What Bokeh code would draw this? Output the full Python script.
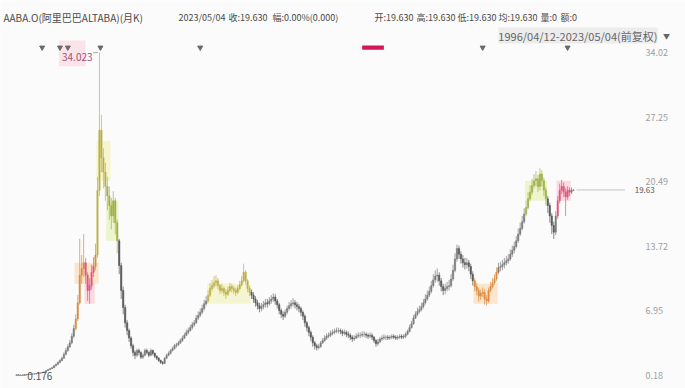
from bokeh.plotting import figure
from bokeh.models import Range1d, Label, ColumnDataSource
from bokeh.core.properties import value
from bokeh.embed import file_html
from bokeh.resources import INLINE

# ---------------- data ----------------
first_open = 0.20
close = [0.25,0.22,0.20,0.24,0.28,0.30,0.27,0.32,0.35,0.33,0.38,0.42,0.45,0.50,0.55,0.70,0.80,0.90,1.00,1.20,
         1.35,1.55,1.75,2.00,2.40,2.80,3.20,3.60,4.30,5.10,6.10,7.80,10.70,11.40,12.00,10.70,9.10,9.60,11.00,11.60,
         12.80,19.60,25.90,23.00,21.50,20.00,19.00,18.00,16.90,18.50,16.20,14.30,11.70,9.10,7.30,5.70,4.90,4.10,3.30,2.60,
         2.30,2.80,2.60,2.10,2.30,2.80,2.60,2.30,2.80,2.50,2.20,2.00,1.75,1.55,1.45,2.00,2.30,2.50,2.80,3.00,
         3.30,3.40,3.60,3.85,4.10,4.40,4.70,4.90,5.20,5.50,5.70,6.20,6.50,6.80,7.20,7.70,8.00,8.60,9.30,9.60,
         9.90,10.10,9.60,9.10,9.30,8.90,8.70,9.10,9.50,9.30,9.10,8.90,9.30,9.70,10.10,11.00,10.10,9.30,8.90,8.60,
         8.20,7.80,7.50,7.20,7.40,7.60,7.80,7.70,8.00,8.20,8.40,8.00,7.60,7.00,6.60,6.40,6.80,7.20,7.50,7.70,
         7.80,7.60,7.40,7.20,6.80,6.40,5.70,5.20,4.70,4.20,3.60,3.30,3.10,3.20,3.60,3.85,4.10,4.30,4.40,4.60,
         4.70,4.80,4.90,4.90,4.80,4.60,4.70,4.50,4.40,4.20,4.00,4.10,4.30,4.40,4.40,4.50,4.50,4.40,4.30,4.40,
         4.20,3.85,3.50,3.70,4.00,4.10,4.20,4.20,4.10,4.20,4.30,4.20,4.10,4.20,4.30,4.20,4.30,4.50,4.80,5.20,
         5.60,6.20,6.60,6.90,7.10,7.40,7.80,8.20,8.60,9.00,9.60,10.20,10.60,10.70,10.10,9.50,9.10,9.30,9.50,9.60,
         10.30,11.20,12.40,13.50,12.90,12.40,12.00,11.80,12.00,11.60,10.80,10.10,9.50,9.10,8.50,8.80,8.90,8.20,8.00,9.10,
         9.50,9.90,10.30,11.00,11.50,11.60,11.80,12.00,12.20,12.40,12.90,13.30,13.70,14.30,15.00,15.60,16.30,17.10,17.80,18.70,
         19.40,20.10,20.60,20.80,20.00,21.30,20.60,19.60,18.70,18.00,16.90,15.90,15.20,16.90,18.50,19.60,20.00,19.40,18.90,19.60,
         19.40,19.60,19.63]
high = [0.30,0.27,0.24,0.26,0.30,0.33,0.32,0.34,0.38,0.37,0.40,0.45,0.49,0.54,0.60,0.74,0.86,0.97,1.08,1.27,
        1.44,1.66,1.88,2.15,2.60,3.05,3.45,3.90,4.60,5.50,6.60,8.60,14.50,12.80,15.00,12.50,11.00,10.40,11.80,12.60,
        14.00,21.00,34.023,27.50,24.00,22.50,21.00,20.00,18.80,19.50,18.80,16.50,14.50,12.00,9.50,7.60,6.00,5.10,4.30,3.50,
        2.80,3.00,3.00,2.70,2.50,3.00,3.00,2.70,3.00,2.90,2.60,2.30,2.10,1.85,1.70,2.10,2.45,2.70,2.95,3.20,
        3.50,3.60,3.80,4.05,4.35,4.65,5.00,5.20,5.50,5.80,6.00,6.50,6.90,7.20,7.60,8.10,8.50,9.10,9.90,10.20,
        10.60,10.70,10.40,9.80,9.80,9.50,9.20,9.50,9.90,9.80,9.60,9.40,9.60,10.10,10.60,11.90,11.20,10.30,9.60,9.20,
        8.90,8.50,8.10,7.80,7.80,8.00,8.20,8.20,8.40,8.60,8.80,8.70,8.20,7.80,7.20,6.90,7.10,7.50,7.90,8.10,
        8.30,8.10,7.90,7.70,7.40,7.00,6.60,5.90,5.40,4.90,4.40,3.80,3.50,3.50,3.80,4.10,4.40,4.60,4.70,4.90,
        5.00,5.10,5.20,5.20,5.10,5.00,5.00,4.90,4.80,4.60,4.40,4.40,4.60,4.70,4.70,4.80,4.80,4.70,4.60,4.70,
        4.60,4.30,4.00,4.00,4.20,4.40,4.50,4.40,4.40,4.40,4.50,4.50,4.40,4.40,4.50,4.50,4.50,4.70,5.00,5.50,
        5.90,6.50,6.90,7.30,7.50,7.80,8.20,8.70,9.10,9.50,10.10,10.80,11.20,11.40,11.00,10.40,9.80,9.80,10.00,10.20,
        10.80,11.80,13.00,13.90,13.80,13.20,12.80,12.50,12.50,12.30,11.90,11.10,10.40,9.90,9.40,9.20,9.40,9.20,8.60,9.40,
        10.00,10.40,10.80,11.50,12.00,12.10,12.30,12.50,12.70,12.90,13.40,13.80,14.20,14.80,15.60,16.20,16.90,17.70,18.50,19.40,
        20.10,20.80,21.30,21.60,21.20,21.90,21.70,20.90,19.90,19.00,18.30,17.20,16.30,17.40,19.00,20.30,20.70,20.40,19.80,20.00,
        19.90,19.90,19.70]
low = [0.176,0.19,0.18,0.19,0.23,0.26,0.25,0.26,0.30,0.31,0.32,0.36,0.40,0.43,0.48,0.53,0.66,0.76,0.85,0.95,
       1.12,1.30,1.48,1.68,1.92,2.30,2.65,3.05,3.45,4.10,4.90,5.90,7.60,9.80,10.50,9.80,8.00,7.70,9.20,10.50,
       11.20,12.50,19.00,21.50,19.80,18.50,17.50,16.50,15.50,16.20,15.00,13.00,10.80,8.20,6.60,5.20,4.40,3.70,3.00,2.20,
       1.90,2.10,2.30,1.90,1.90,2.20,2.40,2.10,2.20,2.30,2.00,1.80,1.60,1.40,1.30,1.40,1.90,2.20,2.40,2.70,
       2.90,3.10,3.30,3.50,3.70,4.00,4.30,4.50,4.80,5.00,5.30,5.60,6.00,6.30,6.60,7.00,7.50,7.80,8.40,9.00,
       9.30,9.50,9.20,8.70,8.80,8.50,8.20,8.50,8.90,8.90,8.70,8.50,8.70,9.10,9.50,9.90,9.70,8.90,8.50,8.20,
       7.80,7.40,7.10,6.80,6.90,7.10,7.30,7.30,7.50,7.70,7.90,7.60,7.20,6.60,6.20,6.00,6.20,6.60,7.00,7.20,
       7.40,7.20,7.00,6.80,6.40,6.00,5.30,4.80,4.30,3.80,3.20,2.90,2.80,2.90,3.10,3.50,3.70,3.90,4.10,4.20,
       4.40,4.50,4.60,4.60,4.50,4.30,4.40,4.20,4.10,3.90,3.70,3.80,4.00,4.10,4.10,4.20,4.20,4.10,4.00,4.10,
       3.90,3.60,3.20,3.30,3.60,3.80,3.90,3.90,3.90,3.90,4.00,4.00,3.90,3.90,4.00,4.00,4.00,4.10,4.40,4.70,
       5.10,5.50,6.10,6.40,6.70,6.90,7.20,7.60,8.00,8.40,8.80,9.40,9.90,10.00,9.60,9.00,8.60,8.70,9.00,9.10,
       9.40,10.10,11.00,12.10,12.40,11.90,11.50,11.30,11.40,11.10,10.30,9.60,9.00,8.60,7.90,8.10,8.40,7.60,7.50,7.80,
       8.90,9.30,9.70,10.10,10.80,11.10,11.20,11.40,11.70,11.90,12.20,12.60,13.00,13.50,14.10,14.80,15.40,16.10,16.90,17.60,
       18.50,19.10,19.80,20.00,19.40,19.60,20.00,19.00,18.00,17.20,16.20,15.00,14.50,14.90,16.60,18.20,19.20,18.90,16.90,18.60,
       19.00,19.20,19.50]

last_price = 19.63
tick_values = [0.18, 6.95, 13.72, 20.49, 27.25, 34.02]

# highlighted groups (candle index range, price range, kind)
zone_start = [30, 35, 41, 46, 97, 232, 258, 274]
zone_end   = [41, 39, 47, 51, 118, 243, 268, 280]
zone_low   = [9.8, 7.7, 20.6, 14.3, 7.7, 7.7, 18.5, 18.5]
zone_high  = [12.0, 9.9, 24.8, 18.5, 9.8, 9.8, 20.6, 20.6]
zone_kind  = ["orange", "pink", "yellow", "lime", "yellow", "orange", "lime", "pink"]

event_idx = [13, 22, 26, 42.5, 93, 236, 279]
bar_event = [175, 186]

header_texts = ["AABA.O(阿里巴巴ALTABA)(月K)", "2023/05/04", "收:19.630", "幅:0.00%(0.000)",
                "开:19.630", "高:19.630", "低:19.630", "均:19.630", "量:0", "额:0"]
range_text = "1996/04/12-2023/05/04(前复权)"
max_label = "34.023"
min_label = "0.176"

# ---------------- styling ----------------
zone_fill = {"orange": "#fbe2c6", "pink": "#fbd6df", "yellow": "#f4f5cc", "lime": "#ecf4c8"}
zone_candle = {"orange": "#d98d45", "pink": "#e2567a", "yellow": "#bcb04a", "lime": "#a0b04a"}
FONT = "Noto Sans CJK SC"

n = len(close)
idx = list(range(n))
opens = [first_open] + close[:-1]

colors = []
for i in idx:
    col = "#595959" if close[i] < opens[i] else "#7c7c7c"
    for s, e, k in zip(zone_start, zone_end, zone_kind):
        if s <= i <= e:
            col = zone_candle[k]
    colors.append(col)

W, H = 685, 388
p = figure(width=W, height=H, output_backend="svg", toolbar_location=None,
           x_range=Range1d(-8.10, 338.7), y_range=Range1d(-1.183, 39.49),
           x_axis_location=None, y_axis_location=None,
           min_border_left=0, min_border_top=0, min_border_bottom=0, min_border_right=0)
p.background_fill_color = "#fbfbfb"
p.border_fill_color = "#fbfbfb"
p.outline_line_color = None
p.grid.visible = False

# price scale labels (right side)
p.text(x=[318.5] * len(tick_values), y=tick_values, text=[f"{v:.2f}" for v in tick_values],
       text_align="left", text_baseline="middle", text_font=value(FONT), text_font_size="9px",
       text_color="#a0a0a0")

# zones
p.quad(left=[s - 0.6 for s in zone_start], right=[e + 0.6 for e in zone_end],
       bottom=zone_low, top=zone_high,
       fill_color=[zone_fill[k] for k in zone_kind], line_color=None, fill_alpha=0.9)

# pink mark behind max label
p.quad(left=[21.5], right=[35.0], bottom=[32.6], top=[35.3], fill_color="#fbe3ea", line_color=None)

# candles
src = ColumnDataSource(dict(x=idx, o=opens, c=close, h=high, l=low, col=colors,
                            top=[max(a, b) for a, b in zip(opens, close)],
                            bot=[min(a, b) for a, b in zip(opens, close)]))
p.segment(x0="x", x1="x", y0="l", y1="h", source=src, line_color="col", line_width=1, line_alpha=0.7)
p.vbar(x="x", width=0.7, top="top", bottom="bot", source=src, fill_color="col", line_color="col",
       line_width=0.5)

# last price line
p.segment(x0=[n - 1 + 1.5], x1=[308], y0=[last_price], y1=[last_price], line_color="#c4c4c4", line_width=1)

# event markers along top band
band_y = 34.56
p.scatter(x=event_idx, y=[band_y] * len(event_idx), marker="inverted_triangle", size=5,
          fill_color="#6a6a6a", line_color="#6a6a6a")
p.quad(left=[bar_event[0]], right=[bar_event[1]], bottom=[band_y - 0.22], top=[band_y + 0.22],
       fill_color="#d3185a", line_color=None)

# max / min annotations
imax = high.index(max(high))
imin = low.index(min(low))
p.segment(x0=[imax - 3.2], x1=[imax - 0.7], y0=[max(high)], y1=[max(high)], line_color="#aaa", line_width=1,
          )
p.text(x=[imax - 3.5], y=[max(high)], text=[max_label], text_align="right", text_baseline="middle",
       y_offset=4, text_font=value(FONT), text_font_size="10px", text_color="#a8506a")
p.segment(x0=[imin + 0.3], x1=[imin + 5.0], y0=[min(low)], y1=[min(low)], line_color="#999", line_width=1)
p.text(x=[imin + 5.5], y=[min(low)], text=[min_label], text_align="left", text_baseline="middle",
       text_font=value(FONT), text_font_size="10px", text_color="#555")

# price tag
p.text(x=[313.0], y=[last_price], text=[f"{last_price:.2f}"], text_align="left",
       text_baseline="middle", text_font=value(FONT), text_font_size="8px", text_color="#555")

# header
hx = [3, 178, 228, 272, 374, 416, 457, 498, 540, 560]
hs = ["10px"] + ["9px"] * (len(header_texts) - 1)
for t, x, s in zip(header_texts, hx, hs):
    p.add_layout(Label(x=x, y=H - 17, x_units="screen", y_units="screen", text=t,
                       text_baseline="middle", text_font=FONT, text_font_size=s, text_color="#4a4a4a"))
p.add_layout(Label(x=657, y=H - 35, x_units="screen", y_units="screen", text=range_text,
                   text_align="right", text_baseline="middle", text_font=FONT, text_font_size="11px",
                   text_color="#666", background_fill_color="#e8e8e8", background_fill_alpha=0.8))
p.add_layout(Label(x=666, y=H - 35, x_units="screen", y_units="screen", text="▼",
                   text_align="center", text_baseline="middle", text_font=FONT, text_font_size="7px",
                   text_color="#666"))

open("out.html", "w").write(file_html(p, INLINE))
